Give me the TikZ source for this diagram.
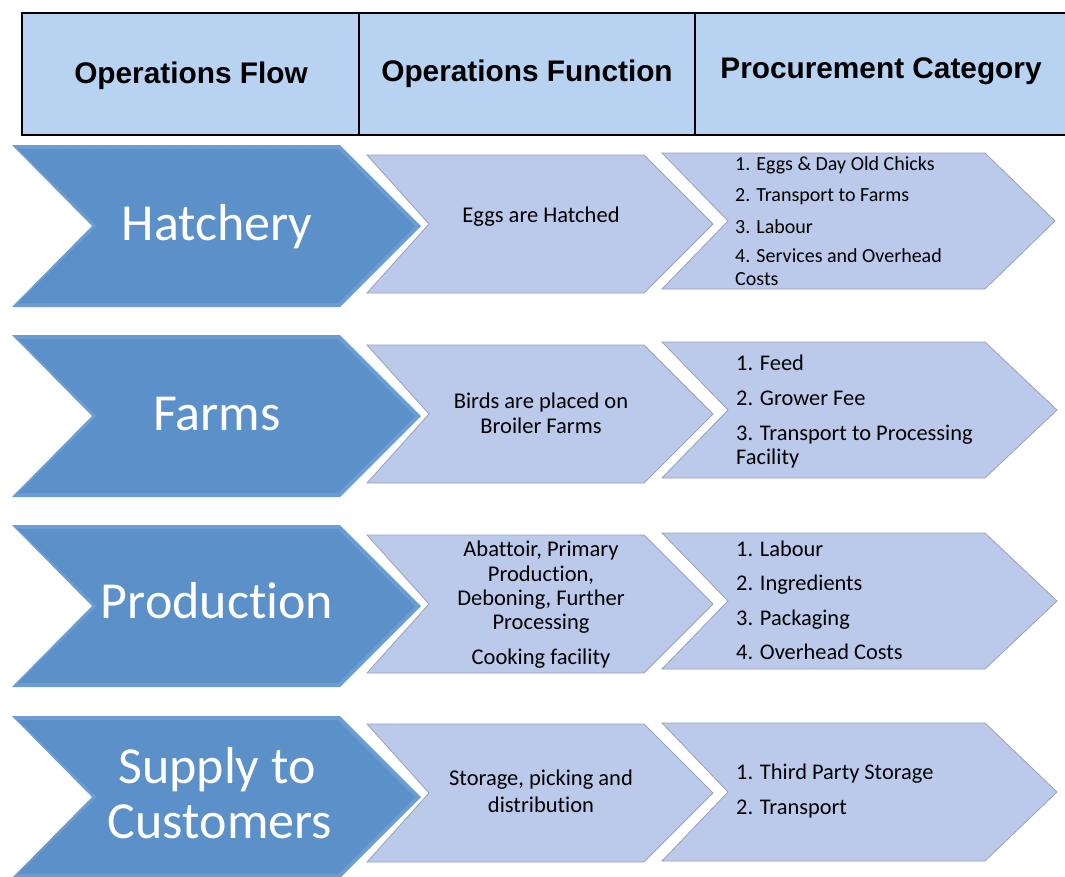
\documentclass[tikz,border=0pt]{standalone}
\usepackage{fontspec}
\setmainfont{Carlito}[Ligatures=CommonOff]
\newfontfamily\hdrfont{Liberation Sans}
\definecolor{hdrblue}{HTML}{B8D3F2}
\definecolor{darkblue}{HTML}{5B90C9}
\definecolor{darkbevel}{HTML}{6B9DD3}
\definecolor{lightblue}{HTML}{BBC9EA}
\definecolor{chevedge}{HTML}{98A3BB}
\newcommand{\mychev}[8]{% style, xleft, xnotch, xcorner, xtip, cy, half height, name
  \path[#1] (#2,#6-#7) -- (#4,#6-#7) -- (#5,#6) -- (#4,#6+#7) -- (#2,#6+#7) -- (#3,#6) -- cycle;
  \coordinate (#8) at (#3,#6);
}
\newcommand{\mydark}[2]{% cy, name
  \mychev{darkedge}{12}{92}{340}{421}{#1}{81}{#2}
  \mychev{darkchev}{18}{97}{338}{415}{#1}{77}{#2in}
}
\begin{document}
\begin{tikzpicture}[x=1pt,y=-1pt,
  darkedge/.style={fill=darkbevel},
  darkchev/.style={fill=darkblue},
  lightchev/.style={fill=lightblue, draw=chevedge, line width=0.8pt},
  hdrcell/.style={fill=hdrblue, draw=black, line width=1.1pt},
  hdrtext/.style={font=\hdrfont\bfseries\fontsize{29.8}{34}\selectfont, anchor=base, inner sep=0pt},
  biglabel/.style={font=\fontsize{52}{56}\selectfont, text=white, anchor=base, inner sep=0pt},
  midtext/.style={font=\fontsize{22.5}{26}\selectfont, anchor=base, inner sep=0pt},
  listtext/.style={font=\fontsize{22.4}{26}\selectfont, anchor=base west, inner sep=0pt},
  smalllist/.style={font=\fontsize{20}{23}\selectfont, anchor=base west, inner sep=0pt},
]
\useasboundingbox (0,0) rectangle (1065,876);
\fill[white] (0,0) rectangle (1065,876);

% header
\path[hdrcell] (22,13) rectangle (1080,135);
\draw[line width=1.1pt] (359,13) -- (359,135);
\draw[line width=1.1pt] (695,13) -- (695,135);
\node[hdrtext] (hflow) at (191,83) {Operations Flow};
\node[hdrtext] (hfunc) at (527,81) {Operations Function};
\node[hdrtext] (hproc) at (881,78) {Procurement Category};

% rows: dark, middle, right chevrons
\mydark{226}{d1}
\mychev{lightchev}{367}{429}{644}{713}{224}{69}{m1}
\mychev{lightchev}{662}{728}{985}{1055}{221}{68}{r1}

\mydark{416}{d2}
\mychev{lightchev}{367}{429}{644}{713}{414}{69}{m2}
\mychev{lightchev}{662}{728}{985}{1057}{410}{68}{r2}

\mydark{606}{d3}
\mychev{lightchev}{367}{429}{644}{713}{604}{69}{m3}
\mychev{lightchev}{662}{728}{985}{1057}{601}{68}{r3}

\mydark{797}{d4}
\mychev{lightchev}{367}{429}{644}{713}{793}{69}{m4}
\mychev{lightchev}{662}{728}{985}{1057}{792}{69}{r4}

% dark labels
\node[biglabel] (lhatch) at (217,240) {Hatchery};
\node[biglabel] (lfarms) at (217,430) {Farms};
\node[biglabel] (lprod) at (217,618) {Production};
\node[biglabel] (lsup1) at (217,783) {Supply to};
\node[biglabel] (lsup2) at (220,838) {Customers};

% middle texts
\node[midtext] (mh) at (541,222) {Eggs are Hatched};
\node[midtext] (mf1) at (541,408) {Birds are placed on};
\node[midtext] (mf2) at (541,433) {Broiler Farms};
\node[midtext] (mp1) at (541,556) {Abattoir, Primary};
\node[midtext] (mp2) at (541,581) {Production,};
\node[midtext] (mp3) at (541,605) {Deboning, Further};
\node[midtext] (mp4) at (541,629) {Processing};
\node[midtext] (mp5) at (541,664) {Cooking facility};
\node[midtext] (ms1) at (541,785) {Storage, picking and};
\node[midtext] (ms2) at (541,812) {distribution};

% right lists
\node[smalllist] (rh1) at (735,170) {1. Eggs \& Day Old Chicks};
\node[smalllist] (rh2) at (735,201) {2. Transport to Farms};
\node[smalllist] (rh3) at (735,233) {3. Labour};
\node[smalllist] (rh4) at (735,262) {4. Services and Overhead};
\node[smalllist] (rh5) at (735,285) {Costs};

\node[listtext] (rf1) at (736,370) {1. Feed};
\node[listtext] (rf2) at (736,405) {2. Grower Fee};
\node[listtext] (rf3) at (736,440) {3. Transport to Processing};
\node[listtext] (rf4) at (736,464) {Facility};

\node[listtext] (rp1) at (736,556) {1. Labour};
\node[listtext] (rp2) at (736,590) {2. Ingredients};
\node[listtext] (rp3) at (736,625) {3. Packaging};
\node[listtext] (rp4) at (736,659) {4. Overhead Costs};

\node[listtext] (rs1) at (736,779) {1. Third Party Storage};
\node[listtext] (rs2) at (736,814) {2. Transport};
\end{tikzpicture}
\end{document}
